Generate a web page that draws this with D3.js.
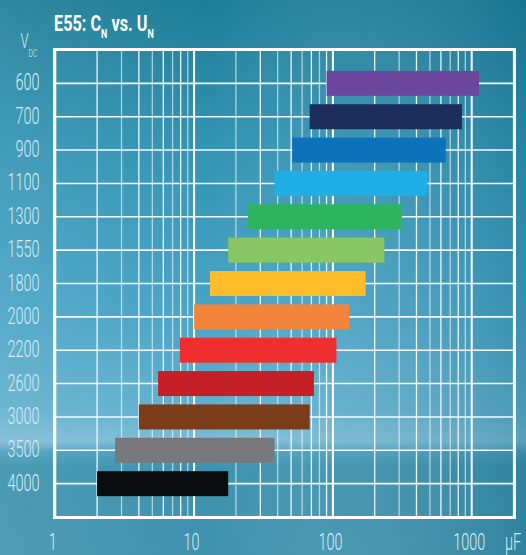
<!DOCTYPE html>
<html lang="en">
<head>
<meta charset="utf-8">
<title>E55: CN vs. UN</title>
<script src="https://d3js.org/d3.v7.min.js"></script>
<style>
  html, body { margin: 0; padding: 0; background: #2f8ca8; }
  svg { display: block; }
  text { font-family: Roboto, "Liberation Sans Narrow", sans-serif; }
</style>
</head>
<body>
<script>
// rated voltage rows (top to bottom)
const voltages = ["600", "700", "900", "1100", "1300", "1550", "1800", "2000", "2200", "2600", "3000", "3500", "4000"];
// capacitance range per voltage, in µF
const capMin = [90, 68, 51, 38, 24.5, 17.6, 13, 10, 7.9, 5.5, 4.0, 2.7, 2.0];
const capMax = [1130, 850, 650, 480, 315, 235, 172, 131, 106, 73, 68, 38, 17.6];
const barColors = ["#6a479c", "#1b2d5a", "#0c72ba", "#1fafe6", "#2db45e", "#88c764", "#fdbd29",
                   "#f3843b", "#ef2f2f", "#c42026", "#7b3c1a", "#77787b", "#0b0c10"];
const xTicks = [1, 10, 100, 1000];

const width = 526, height = 555;
const frame = {left: 54.5, right: 514.5, top: 49.5, bottom: 517.5};

const svg = d3.select("body").append("svg")
  .attr("width", width)
  .attr("height", height);

// background
const defs = svg.append("defs");
const bg = defs.append("linearGradient").attr("id", "bg")
  .attr("x1", 0).attr("y1", 0).attr("x2", 0).attr("y2", 1);
[[0, "#1f7d97"], [0.25, "#3193b2"], [0.55, "#47a3c5"], [0.74, "#62b0ce"], [0.795, "#7cbcd5"],
 [0.815, "#4a9fbd"], [0.84, "#3c92ae"], [1, "#3f93ae"]]
  .forEach(s => bg.append("stop").attr("offset", s[0]).attr("stop-color", s[1]));
const shade = defs.append("linearGradient").attr("id", "shade")
  .attr("x1", 0).attr("y1", 0).attr("x2", 1).attr("y2", 0);
[[0, "#ffffff", 0.08], [0.4, "#ffffff", 0], [1, "#0a5a78", 0.28]]
  .forEach(s => shade.append("stop").attr("offset", s[0]).attr("stop-color", s[1]).attr("stop-opacity", s[2]));

svg.append("rect").attr("width", width).attr("height", height).attr("fill", "url(#bg)");
svg.append("rect").attr("width", width).attr("height", height).attr("fill", "url(#shade)");

// scales
const x = d3.scaleLog()
  .domain([1, 1000])
  .range([55.3, 471.7]);

const y = d3.scalePoint()
  .domain(voltages)
  .range([50, 517])
  .padding(1);

const barH = 25;

// vertical grid (1..9 per decade, plus 1000 and 2000)
const gridVals = [];
[1, 10, 100].forEach(dec => { for (let k = 1; k <= 9; k++) gridVals.push(dec * k); });
gridVals.push(1000, 2000);

svg.append("g")
  .selectAll("line")
  .data(gridVals)
  .join("line")
  .attr("x1", d => x(d)).attr("x2", d => x(d))
  .attr("y1", frame.top).attr("y2", frame.bottom)
  .attr("stroke", "#fff")
  .attr("stroke-width", d => xTicks.includes(d) ? 2 : 1.3)
  .attr("stroke-opacity", (d, i) => xTicks.includes(d) ? 1 : (i % 2 ? 0.9 : 0.6));

// horizontal grid at row centres
svg.append("g")
  .selectAll("line")
  .data(voltages)
  .join("line")
  .attr("x1", frame.left).attr("x2", frame.right)
  .attr("y1", d => y(d)).attr("y2", d => y(d))
  .attr("stroke", "#fff")
  .attr("stroke-width", 1.6)
  .attr("stroke-opacity", 0.95);

// bars
svg.append("g")
  .selectAll("rect")
  .data(voltages)
  .join("rect")
  .attr("x", (d, i) => x(capMin[i]))
  .attr("width", (d, i) => x(capMax[i]) - x(capMin[i]))
  .attr("y", d => y(d) - barH / 2)
  .attr("height", barH)
  .attr("fill", (d, i) => barColors[i]);

// frame
svg.append("rect")
  .attr("x", frame.left).attr("y", frame.top)
  .attr("width", frame.right - frame.left)
  .attr("height", frame.bottom - frame.top)
  .attr("fill", "none")
  .attr("stroke", "#fff")
  .attr("stroke-width", 3);

// condensed text helper
function ctext(g, tx, ty, sx) {
  return g.append("text").attr("transform", `translate(${tx},${ty}) scale(${sx},1)`);
}

const labelColor = "#dcedf3";

// y labels
const yl = svg.append("g");
voltages.forEach(v => {
  ctext(yl, 39.5, y(v) + 7, 0.6)
    .attr("text-anchor", "end")
    .attr("font-size", 24)
    .attr("font-weight", 300)
    .attr("fill", labelColor)
    .text(v);
});

// x labels
const xl = svg.append("g");
xTicks.forEach(t => {
  ctext(xl, x(t) - 2.5, 550, 0.6)
    .attr("text-anchor", "middle")
    .attr("font-size", 24)
    .attr("font-weight", 300)
    .attr("fill", labelColor)
    .text(t);
});
ctext(xl, 505, 550, 0.6)
  .attr("font-size", 24)
  .attr("font-weight", 300)
  .attr("fill", labelColor)
  .text("µF");

// y axis unit V_DC
const vt = ctext(svg, 20.5, 48.3, 0.62)
  .attr("font-size", 21)
  .attr("font-weight", 300)
  .attr("fill", labelColor);
vt.append("tspan").text("V");
vt.append("tspan").attr("font-size", 11).attr("dy", 9).text("DC");

// title
const tt = ctext(svg, 54, 30.7, 0.74)
  .attr("font-size", 22)
  .attr("font-weight", 700)
  .attr("fill", "#fff");
tt.append("tspan").text("E55: C");
tt.append("tspan").attr("font-size", 12).attr("dy", 7.6).text("N");
tt.append("tspan").attr("dy", -7.6).text(" vs. U");
tt.append("tspan").attr("font-size", 12).attr("dy", 7.6).text("N");
</script>
</body>
</html>
